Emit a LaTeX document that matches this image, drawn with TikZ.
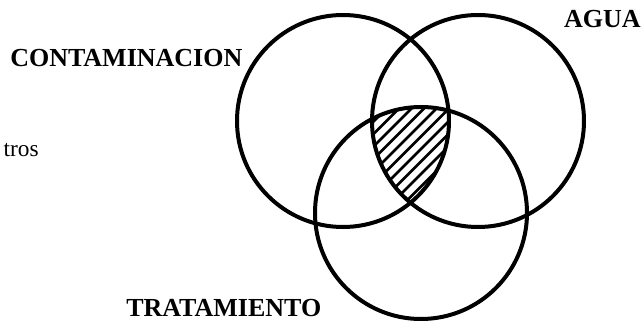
\documentclass[tikz,border=0pt]{standalone}
\usepackage{fontspec}
\setmainfont{Liberation Serif}
\definecolor{LineClr}{rgb}{0,0,0}

\begin{document}
\begin{tikzpicture}[x=0.75pt,y=-0.75pt,
  venn/.style={line width=3pt,color=LineClr},
  hatchline/.style={line width=2pt,color=LineClr},
  setlabel/.style={font=\bfseries\fontsize{19.5}{22}\selectfont,inner sep=0pt},
  sidelabel/.style={font=\fontsize{17.5}{20}\selectfont,inner sep=0pt}]
\useasboundingbox (0,0) rectangle (644,321);

\coordinate (C) at (343,121);
\coordinate (A) at (478,121);
\coordinate (T) at (421,213);

% common part of the three sets
\begin{scope}
\clip (C) circle[radius=79.5pt];
\clip (A) circle[radius=79.5pt];
\clip (T) circle[radius=79.5pt];
\foreach \k in {-10,...,10}
  \draw[hatchline] (330+\k*12.5,240) -- ++(160,-160);
\end{scope}

\draw[venn] (C) circle[radius=79.5pt];
\draw[venn] (A) circle[radius=79.5pt];
\draw[venn] (T) circle[radius=79.5pt];

\node[setlabel,anchor=base west] (cont) at (10,67) {CONTAMINACION};
\node[setlabel,anchor=base east] (agua) at (641,28) {AGUA};
\node[setlabel,anchor=base west] (trat) at (126,316) {TRATAMIENTO};
\node[sidelabel,anchor=base east] (tros) at (39,157) {tros};

\end{tikzpicture}
\end{document}
